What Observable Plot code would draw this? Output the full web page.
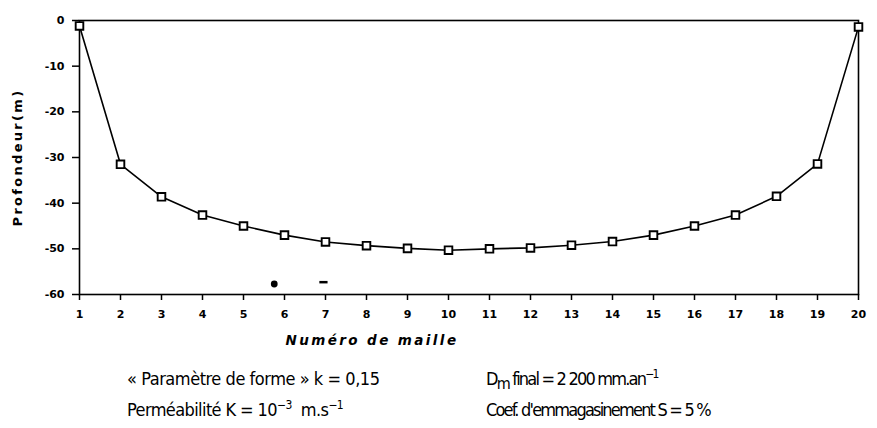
<!DOCTYPE html>
<html>
<head>
<meta charset="utf-8">
<script src="https://cdn.jsdelivr.net/npm/d3@7"></script>
<script src="https://cdn.jsdelivr.net/npm/@observablehq/plot@0.6"></script>
<style>
  html, body { margin: 0; padding: 0; background: #fff; }
  #wrap { position: relative; width: 877px; height: 428px; }
  .cap { position: absolute; font-family: "Liberation Sans Narrow", "DejaVu Sans Condensed", "Liberation Sans", sans-serif; font-size: 18px; color: #000; line-height: 20px; white-space: nowrap; }
  .cap sup { font-size: 12px; vertical-align: 7px; line-height: 0; }
  .cap sub { font-size: 16px; vertical-align: -4px; line-height: 0; }
</style>
</head>
<body>
<div id="wrap"></div>
<script>
const maille = [1,2,3,4,5,6,7,8,9,10,11,12,13,14,15,16,17,18,19,20];
const profondeur = [-1.2,-31.5,-38.6,-42.6,-45.0,-47.0,-48.5,-49.3,-49.9,-50.3,-50.0,-49.8,-49.2,-48.4,-47.0,-45.0,-42.6,-38.5,-31.4,-1.4];
const xTicks = [1,2,3,4,5,6,7,8,9,10,11,12,13,14,15,16,17,18,19,20];
const yTicks = [0,-10,-20,-30,-40,-50,-60];
const yTickLabels = ["0","-10","-20","-30","-40","-50","-60"];
const xLabel = "Numéro de maille";
const yLabel = "Profondeur(m)";
// scan specks near the bottom of the frame
const speckX = [5.75];
const speckY = [-57.7];
const dashX1 = [6.85], dashX2 = [7.05], dashY = [-57.3];

const data = maille.map((m, i) => ({m, p: profondeur[i]}));
const specks = speckX.map((x, i) => ({x, y: speckY[i]}));
const dashes = dashX1.map((x1, i) => ({x1, x2: dashX2[i], y: dashY[i]}));

const axisFont = "DejaVu Sans, sans-serif";

const chart = Plot.plot({
  width: 877,
  height: 355,
  marginLeft: 79,
  marginRight: 19,
  marginTop: 20,
  marginBottom: 61,
  style: {fontFamily: axisFont, background: "#fff", color: "#000"},
  x: {domain: [1, 20]},
  y: {domain: [-60, 0]},
  marks: [
    Plot.frame({stroke: "#000", strokeWidth: 1.6}),
    Plot.axisX({
      ticks: xTicks, tickSize: 6, tickPadding: 10, tickFormat: d => String(d),
      fontSize: 11, fontWeight: "bold", strokeWidth: 1.5, label: null
    }),
    Plot.axisY({
      ticks: yTicks, tickSize: 7, tickPadding: 8,
      tickFormat: d => yTickLabels[yTicks.indexOf(d)],
      fontSize: 11, fontWeight: "bold", strokeWidth: 1.5,
      label: yLabel, labelAnchor: "center", labelArrow: "none", labelOffset: 67
    }),
    Plot.line(data, {x: "m", y: "p", stroke: "#000", strokeWidth: 1.6}),
    Plot.dot(data, {x: "m", y: "p", symbol: "square", r: 4.3, stroke: "#000", strokeWidth: 1.9, fill: "#fff"}),
    Plot.dot(specks, {x: "x", y: "y", r: 3.4, fill: "#000", stroke: "none"}),
    Plot.link(dashes, {x1: "x1", x2: "x2", y1: "y", y2: "y", stroke: "#000", strokeWidth: 2.5}),
    Plot.text([xLabel], {
      frameAnchor: "bottom", dx: -97, dy: 50, text: d => d,
      fontSize: 13.5, fontWeight: "bold", fontStyle: "italic", fill: "#000"
    })
  ]
});

const wrap = document.getElementById("wrap");
wrap.appendChild(chart);
chart.querySelectorAll("text").forEach(t => {
  if (t.textContent === yLabel) { t.style.fontSize = "13px"; t.style.fontWeight = "bold"; t.style.letterSpacing = "2.3px"; }
  if (t.textContent === xLabel) { t.style.letterSpacing = "2.4px"; }
});

const captions = [
  {left: 127, top: 369, ls: -0.45, html: "« Paramètre de forme » k = 0,15"},
  {left: 127, top: 400, ls: -0.6, html: "Perméabilité K = 10<sup>−3</sup>&nbsp; m.s<sup>−1</sup>"},
  {left: 486, top: 369, ls: -1.8, html: "D<sub>m</sub> final = 2 200 mm.an<sup>−1</sup>"},
  {left: 486, top: 400, ls: -1.8, html: "Coef. d'emmagasinement S = 5 %"}
];
captions.forEach(c => {
  const d = document.createElement("div");
  d.className = "cap";
  d.style.left = c.left + "px";
  d.style.top = c.top + "px";
  d.style.letterSpacing = c.ls + "px";
  d.innerHTML = c.html;
  wrap.appendChild(d);
});
</script>
</body>
</html>
